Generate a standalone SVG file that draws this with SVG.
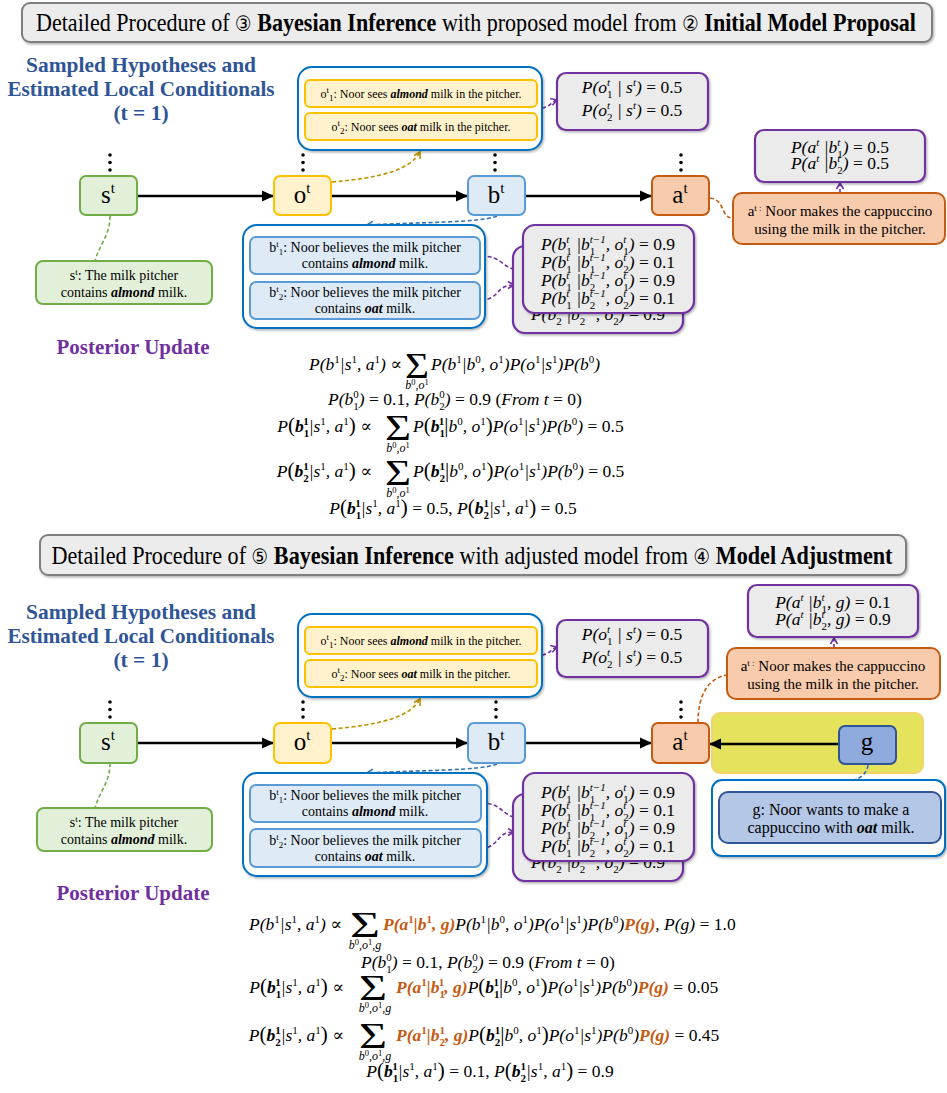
<svg xmlns="http://www.w3.org/2000/svg" width="947" height="1093" viewBox="0 0 947 1093">
<defs>
<style>
.ttl{font-family:"Liberation Serif",serif;font-size:25px;fill:#000}
.cn{font-family:"DejaVu Sans",sans-serif;font-size:21px}
.hd{font-family:"Liberation Serif",serif;font-weight:bold;font-size:21.5px;fill:#2f5597;text-anchor:middle}
.pu{font-family:"Liberation Serif",serif;font-weight:bold;font-size:21px;fill:#7030a0;text-anchor:middle}
.tx{font-family:"Liberation Serif",serif;fill:#000;text-anchor:middle}
.nl{font-family:"Liberation Serif",serif;font-size:25px;fill:#000;text-anchor:middle}
.nsp{font-size:15px;baseline-shift:10px}
.dsp{font-size:9px;baseline-shift:5px}
.dsb{font-size:9px;baseline-shift:-3px}
.bi{font-weight:bold;font-style:italic}
.m{font-family:"Liberation Serif","DejaVu Serif",serif;font-style:italic;font-size:17.5px;fill:#000}
.u{font-style:normal}
.sp{font-size:11px;baseline-shift:7px}
.sb{font-size:11px;baseline-shift:-4.5px}
.bd{font-weight:bold}
.or{fill:#c55a11;font-weight:bold}
.bp{font-size:21px;font-style:normal}
.sig{font-family:"Liberation Serif",serif;font-size:36px;font-style:normal;text-anchor:middle;fill:#000}
.lim{font-family:"Liberation Serif",serif;font-style:italic;font-size:12px;text-anchor:middle;fill:#000}
.lsp{font-size:8.5px;baseline-shift:4.5px;font-style:normal}
.gn{fill:#e2f0d9;stroke:#70ad47;stroke-width:2}
.yl{fill:#fff2cc;stroke:#ffc000;stroke-width:2}
.lb{fill:#deebf7;stroke:#5b9bd5;stroke-width:2}
.og{fill:#f8cbad;stroke:#c55a11;stroke-width:2}
.pb{fill:#ebebeb;stroke:#7030a0;stroke-width:2.2}
.ct{fill:#fff;stroke:#0070c0;stroke-width:2}
.tb{fill:#ececec;stroke:#7f7f7f;stroke-width:2}
.main{stroke:#000;stroke-width:2.6;fill:none}
.dP{stroke:#7030a0;stroke-width:1.6;fill:none;stroke-dasharray:4 2.5}
.dY{stroke:#bf9000;stroke-width:1.6;fill:none;stroke-dasharray:4 2.5}
.dB{stroke:#2e75b6;stroke-width:1.6;fill:none;stroke-dasharray:4 2.5}
.dG{stroke:#70ad47;stroke-width:1.6;fill:none;stroke-dasharray:4 2.5}
.dO{stroke:#c55a11;stroke-width:1.6;fill:none;stroke-dasharray:4 2.5}
</style>
<marker id="arr" markerUnits="userSpaceOnUse" markerWidth="12" markerHeight="12" viewBox="0 0 12 12" refX="11" refY="6" orient="auto"><path d="M0,0.5 L12,6 L0,11.5 Z" fill="#000"/></marker>
<marker id="cP" markerUnits="userSpaceOnUse" markerWidth="9" markerHeight="9" viewBox="0 0 9 9" refX="7.5" refY="4.5" orient="auto"><path d="M1.5,1 L7.5,4.5 L1.5,8" fill="none" stroke="#7030a0" stroke-width="1.6"/></marker>
<marker id="cY" markerUnits="userSpaceOnUse" markerWidth="9" markerHeight="9" viewBox="0 0 9 9" refX="7.5" refY="4.5" orient="auto"><path d="M1.5,1 L7.5,4.5 L1.5,8" fill="none" stroke="#bf9000" stroke-width="1.6"/></marker>
<marker id="cB" markerUnits="userSpaceOnUse" markerWidth="9" markerHeight="9" viewBox="0 0 9 9" refX="7.5" refY="4.5" orient="auto"><path d="M1.5,1 L7.5,4.5 L1.5,8" fill="none" stroke="#2e75b6" stroke-width="1.6"/></marker>
<filter id="sh" x="-5%" y="-5%" width="115%" height="125%"><feDropShadow dx="1.2" dy="1.5" stdDeviation="1.2" flood-color="#000" flood-opacity="0.3"/></filter>
</defs>
<rect width="947" height="1093" fill="#fff"/>

<!-- ================= SECTION 1 ================= -->
<g id="title1">
<rect class="tb" x="22" y="3" width="910" height="39" rx="8" filter="url(#sh)"/>
<text class="ttl" x="476" y="31" text-anchor="middle" textLength="880" lengthAdjust="spacingAndGlyphs"><tspan>Detailed Procedure of </tspan><tspan class="cn">③</tspan><tspan> </tspan><tspan font-weight="bold">Bayesian Inference</tspan><tspan> with proposed model from </tspan><tspan class="cn">②</tspan><tspan> </tspan><tspan font-weight="bold">Initial Model Proposal</tspan></text>
</g>
<g id="heading1">
<text class="hd" x="141" y="72" textLength="230" lengthAdjust="spacingAndGlyphs">Sampled Hypotheses and</text>
<text class="hd" x="141" y="96" textLength="267" lengthAdjust="spacingAndGlyphs">Estimated Local Conditionals</text>
<text class="hd" x="141" y="120">(t = 1)</text>
</g>

<g id="connectors1">
<line class="main" x1="137" y1="196" x2="273" y2="196" marker-end="url(#arr)"/>
<line class="main" x1="331" y1="196" x2="467" y2="196" marker-end="url(#arr)"/>
<line class="main" x1="525" y1="196" x2="651" y2="196" marker-end="url(#arr)"/>
<path class="dG" d="M110,216 C110,236 99,245 95,261"/>
<path class="dY" d="M332,182 C380,178 410,170 420,152" marker-end="url(#cY)"/>
<path class="dP" d="M542,108 C550,107 551,102 557,100" marker-end="url(#cP)"/>
<path class="dB" d="M497,216 C480,223 420,222 367,225" marker-end="url(#cB)"/>
<path class="dP" d="M481,256 C505,256 500,270 523,270" marker-end="url(#cP)"/>
<path class="dP" d="M481,300 C500,300 495,285 514,285" marker-end="url(#cP)"/>
<path class="dO" d="M710,198 C726,200 720,218 733,218"/>
<path class="dP" d="M840,193 L840,183" marker-end="url(#cP)"/>
</g>

<g id="dots1" fill="#000">
<circle cx="110" cy="155" r="1.8"/><circle cx="110" cy="162.5" r="1.8"/><circle cx="110" cy="170" r="1.8"/>
<circle cx="303" cy="155" r="1.8"/><circle cx="303" cy="162.5" r="1.8"/><circle cx="303" cy="170" r="1.8"/>
<circle cx="495" cy="155" r="1.8"/><circle cx="495" cy="162.5" r="1.8"/><circle cx="495" cy="170" r="1.8"/>
<circle cx="681" cy="155" r="1.8"/><circle cx="681" cy="162.5" r="1.8"/><circle cx="681" cy="170" r="1.8"/>
</g>

<g id="s1">
<rect class="gn" x="80" y="176" width="57" height="39" rx="6"/>
<text class="nl" x="108" y="203">s<tspan class="nsp">t</tspan></text>
</g>
<g id="o1">
<rect class="yl" x="274" y="176" width="57" height="39" rx="6"/>
<text class="nl" x="302" y="203">o<tspan class="nsp">t</tspan></text>
</g>
<g id="b1">
<rect class="lb" x="468" y="176" width="57" height="39" rx="6"/>
<text class="nl" x="496" y="203">b<tspan class="nsp">t</tspan></text>
</g>
<g id="a1">
<rect class="og" x="652" y="176" width="57" height="39" rx="6"/>
<text class="nl" x="680" y="203">a<tspan class="nsp">t</tspan></text>
</g>

<g id="sdesc1">
<rect class="gn" x="36" y="261" width="176" height="43" rx="7"/>
<text class="tx" x="124" y="280" font-size="14">s<tspan class="dsp">t</tspan>: The milk pitcher</text>
<text class="tx" x="124" y="297" font-size="14">contains <tspan class="bi">almond</tspan> milk.</text>
</g>

<g id="ohyp1">
<rect class="ct" x="298" y="67" width="244" height="83" rx="14" filter="url(#sh)"/>
<rect class="yl" x="305" y="80" width="232" height="27" rx="5"/>
<text class="tx" x="421" y="97.5" font-size="12">o<tspan class="dsp">t</tspan><tspan class="dsb">1</tspan>: Noor sees <tspan class="bi">almond</tspan> milk in the pitcher.</text>
<rect class="yl" x="305" y="113" width="232" height="27" rx="5"/>
<text class="tx" x="421" y="130.5" font-size="12">o<tspan class="dsp">t</tspan><tspan class="dsb">2</tspan>: Noor sees <tspan class="bi">oat</tspan> milk in the pitcher.</text>
</g>

<g id="po1">
<rect class="pb" x="557" y="73" width="151" height="57" rx="9" filter="url(#sh)"/>
<text class="m" x="632" y="93" text-anchor="middle">P(o<tspan class="sp">t</tspan><tspan class="sb u" dx="-3">1</tspan> | s<tspan class="sp">t</tspan>) <tspan class="u">= 0.5</tspan></text>
<text class="m" x="632" y="116" text-anchor="middle">P(o<tspan class="sp">t</tspan><tspan class="sb u" dx="-3">2</tspan> | s<tspan class="sp">t</tspan>) <tspan class="u">= 0.5</tspan></text>
</g>

<g id="bhyp1">
<rect class="ct" x="243" y="225" width="242" height="103" rx="14" filter="url(#sh)"/>
<rect class="lb" x="250" y="237" width="230" height="37" rx="6"/>
<text class="tx" x="365" y="252" font-size="14">b<tspan class="dsp">t</tspan><tspan class="dsb">1</tspan>: Noor believes the milk pitcher</text>
<text class="tx" x="365" y="268" font-size="14">contains <tspan class="bi">almond</tspan> milk.</text>
<rect class="lb" x="250" y="282" width="230" height="37" rx="6"/>
<text class="tx" x="365" y="297" font-size="14">b<tspan class="dsp">t</tspan><tspan class="dsb">2</tspan>: Noor believes the milk pitcher</text>
<text class="tx" x="365" y="313" font-size="14">contains <tspan class="bi">oat</tspan> milk.</text>
</g>

<g id="pb1">
<rect class="pb" x="513" y="246" width="170" height="87" rx="12" filter="url(#sh)"/>
<text class="m" x="598" y="320" text-anchor="middle">P(b<tspan class="sp">t</tspan><tspan class="sb u" dx="-3">2</tspan> |b<tspan class="sb u">2</tspan><tspan class="sp" dx="-5.5">t−1</tspan>, o<tspan class="sp">t</tspan><tspan class="sb u" dx="-3">2</tspan>) <tspan class="u">= 0.9</tspan></text>
<rect class="pb" x="523" y="225" width="171" height="88" rx="12" filter="url(#sh)"/>
<text class="m" x="608" y="250" text-anchor="middle">P(b<tspan class="sp">t</tspan><tspan class="sb u" dx="-3">1</tspan> |b<tspan class="sb u">1</tspan><tspan class="sp" dx="-5.5">t−1</tspan>, o<tspan class="sp">t</tspan><tspan class="sb u" dx="-3">1</tspan>) <tspan class="u">= 0.9</tspan></text>
<text class="m" x="608" y="268" text-anchor="middle">P(b<tspan class="sp">t</tspan><tspan class="sb u" dx="-3">1</tspan> |b<tspan class="sb u">1</tspan><tspan class="sp" dx="-5.5">t−1</tspan>, o<tspan class="sp">t</tspan><tspan class="sb u" dx="-3">2</tspan>) <tspan class="u">= 0.1</tspan></text>
<text class="m" x="608" y="286" text-anchor="middle">P(b<tspan class="sp">t</tspan><tspan class="sb u" dx="-3">1</tspan> |b<tspan class="sb u">2</tspan><tspan class="sp" dx="-5.5">t−1</tspan>, o<tspan class="sp">t</tspan><tspan class="sb u" dx="-3">1</tspan>) <tspan class="u">= 0.9</tspan></text>
<text class="m" x="608" y="304" text-anchor="middle">P(b<tspan class="sp">t</tspan><tspan class="sb u" dx="-3">1</tspan> |b<tspan class="sb u">2</tspan><tspan class="sp" dx="-5.5">t−1</tspan>, o<tspan class="sp">t</tspan><tspan class="sb u" dx="-3">2</tspan>) <tspan class="u">= 0.1</tspan></text>
</g>

<g id="adesc1">
<rect class="og" x="733" y="193" width="212" height="51" rx="9"/>
<text class="tx" x="840" y="216" font-size="15">a<tspan class="dsp">t :</tspan> Noor makes the cappuccino</text>
<text class="tx" x="840" y="234" font-size="15">using the milk in the pitcher.</text>
</g>

<g id="pa1">
<rect class="pb" x="755" y="130" width="170" height="52" rx="9" filter="url(#sh)"/>
<text class="m" x="840" y="153" text-anchor="middle">P(a<tspan class="sp">t</tspan> |b<tspan class="sp">t</tspan><tspan class="sb u" dx="-3">1</tspan>) <tspan class="u">= 0.5</tspan></text>
<text class="m" x="840" y="169" text-anchor="middle">P(a<tspan class="sp">t</tspan> |b<tspan class="sp">t</tspan><tspan class="sb u" dx="-3">2</tspan>) <tspan class="u">= 0.5</tspan></text>
</g>

<g id="posterior1">
<text class="pu" x="133" y="354">Posterior Update</text>
<text class="m" x="402" y="370" text-anchor="end">P(b<tspan class="sp u">1</tspan>|s<tspan class="sp u">1</tspan>, a<tspan class="sp u">1</tspan>) <tspan class="u">∝</tspan></text>
<text class="sig" x="417" y="378" textLength="24" lengthAdjust="spacingAndGlyphs">Σ</text>
<text class="lim" x="417" y="389">b<tspan class="lsp">0</tspan>,o<tspan class="lsp">1</tspan></text>
<text class="m" x="431" y="370">P(b<tspan class="sp u">1</tspan>|b<tspan class="sp u">0</tspan>, o<tspan class="sp u">1</tspan>)P(o<tspan class="sp u">1</tspan>|s<tspan class="sp u">1</tspan>)P(b<tspan class="sp u">0</tspan>)</text>
<text class="m" x="455" y="405" text-anchor="middle">P(b<tspan class="sb u">1</tspan><tspan class="sp u" dx="-5.5">0</tspan>) <tspan class="u">= 0.1,</tspan> P(b<tspan class="sb u">2</tspan><tspan class="sp u" dx="-5.5">0</tspan>) <tspan class="u">= 0.9 (</tspan>From t <tspan class="u">= 0)</tspan></text>
<text class="m" x="372" y="432" text-anchor="end">P<tspan class="bp">(</tspan><tspan class="bd">b</tspan><tspan class="sb u bd">1</tspan><tspan class="sp u bd" dx="-5.5">1</tspan>|s<tspan class="sp u">1</tspan>, a<tspan class="sp u">1</tspan><tspan class="bp">)</tspan> <tspan class="u">∝</tspan></text>
<text class="sig" x="398" y="440" textLength="26" lengthAdjust="spacingAndGlyphs">Σ</text>
<text class="lim" x="398" y="452">b<tspan class="lsp">0</tspan>,o<tspan class="lsp">1</tspan></text>
<text class="m" x="413" y="432">P<tspan class="bp">(</tspan><tspan class="bd">b</tspan><tspan class="sb u bd">1</tspan><tspan class="sp u bd" dx="-5.5">1</tspan><tspan class="bp">|</tspan>b<tspan class="sp u">0</tspan>, o<tspan class="sp u">1</tspan><tspan class="bp">)</tspan>P(o<tspan class="sp u">1</tspan>|s<tspan class="sp u">1</tspan>)P(b<tspan class="sp u">0</tspan>) <tspan class="u">= 0.5</tspan></text>
<text class="m" x="372" y="477" text-anchor="end">P<tspan class="bp">(</tspan><tspan class="bd">b</tspan><tspan class="sb u bd">2</tspan><tspan class="sp u bd" dx="-5.5">1</tspan>|s<tspan class="sp u">1</tspan>, a<tspan class="sp u">1</tspan><tspan class="bp">)</tspan> <tspan class="u">∝</tspan></text>
<text class="sig" x="398" y="485" textLength="26" lengthAdjust="spacingAndGlyphs">Σ</text>
<text class="lim" x="398" y="497">b<tspan class="lsp">0</tspan>,o<tspan class="lsp">1</tspan></text>
<text class="m" x="413" y="477">P<tspan class="bp">(</tspan><tspan class="bd">b</tspan><tspan class="sb u bd">2</tspan><tspan class="sp u bd" dx="-5.5">1</tspan><tspan class="bp">|</tspan>b<tspan class="sp u">0</tspan>, o<tspan class="sp u">1</tspan><tspan class="bp">)</tspan>P(o<tspan class="sp u">1</tspan>|s<tspan class="sp u">1</tspan>)P(b<tspan class="sp u">0</tspan>) <tspan class="u">= 0.5</tspan></text>
<text class="m" x="453" y="514" text-anchor="middle">P<tspan class="bp">(</tspan><tspan class="bd">b</tspan><tspan class="sb u bd">1</tspan><tspan class="sp u bd" dx="-5.5">1</tspan>|s<tspan class="sp u">1</tspan>, a<tspan class="sp u">1</tspan><tspan class="bp">)</tspan> <tspan class="u">= 0.5,</tspan> P<tspan class="bp">(</tspan><tspan class="bd">b</tspan><tspan class="sb u bd">2</tspan><tspan class="sp u bd" dx="-5.5">1</tspan>|s<tspan class="sp u">1</tspan>, a<tspan class="sp u">1</tspan><tspan class="bp">)</tspan> <tspan class="u">= 0.5</tspan></text>
</g>

<!-- ================= SECTION 2 ================= -->
<g id="title2">
<rect class="tb" x="40" y="535" width="866" height="40" rx="8" filter="url(#sh)"/>
<text class="ttl" x="472" y="564" text-anchor="middle" textLength="841" lengthAdjust="spacingAndGlyphs"><tspan>Detailed Procedure of </tspan><tspan class="cn">⑤</tspan><tspan> </tspan><tspan font-weight="bold">Bayesian Inference</tspan><tspan> with adjusted model from </tspan><tspan class="cn">④</tspan><tspan> </tspan><tspan font-weight="bold">Model Adjustment</tspan></text>
</g>
<g id="heading2">
<text class="hd" x="141" y="619" textLength="230" lengthAdjust="spacingAndGlyphs">Sampled Hypotheses and</text>
<text class="hd" x="141" y="643" textLength="267" lengthAdjust="spacingAndGlyphs">Estimated Local Conditionals</text>
<text class="hd" x="141" y="667">(t = 1)</text>
</g>

<g id="goalhl">
<rect x="712" y="713" width="211" height="60" rx="8" fill="#e4e35b" stroke="#f3d36b" stroke-width="2"/>
</g>

<g id="connectors2">
<line class="main" x1="137" y1="743" x2="273" y2="743" marker-end="url(#arr)"/>
<line class="main" x1="331" y1="743" x2="467" y2="743" marker-end="url(#arr)"/>
<line class="main" x1="525" y1="743" x2="651" y2="743" marker-end="url(#arr)"/>
<line class="main" x1="839" y1="744" x2="710" y2="744" marker-end="url(#arr)"/>
<path class="dG" d="M110,763 C110,783 99,792 95,808"/>
<path class="dY" d="M332,729 C380,725 410,717 420,699" marker-end="url(#cY)"/>
<path class="dP" d="M542,655 C550,654 551,649 557,647" marker-end="url(#cP)"/>
<path class="dB" d="M497,764 C480,771 420,770 367,773" marker-end="url(#cB)"/>
<path class="dP" d="M481,803 C505,803 500,818 523,818" marker-end="url(#cP)"/>
<path class="dP" d="M481,848 C500,848 495,832 514,832" marker-end="url(#cP)"/>
<path class="dO" d="M698,723 C698,692 710,678 727,675"/>
<path class="dP" d="M834,648 L834,638" marker-end="url(#cP)"/>
<path class="dB" d="M868,765 C866,782 845,780 834,790" marker-end="url(#cB)"/>
</g>

<g id="dots2" fill="#000">
<circle cx="110" cy="702" r="1.8"/><circle cx="110" cy="709.5" r="1.8"/><circle cx="110" cy="717" r="1.8"/>
<circle cx="303" cy="702" r="1.8"/><circle cx="303" cy="709.5" r="1.8"/><circle cx="303" cy="717" r="1.8"/>
<circle cx="496" cy="702" r="1.8"/><circle cx="496" cy="709.5" r="1.8"/><circle cx="496" cy="717" r="1.8"/>
<circle cx="681" cy="702" r="1.8"/><circle cx="681" cy="709.5" r="1.8"/><circle cx="681" cy="717" r="1.8"/>
</g>

<g id="s2">
<rect class="gn" x="80" y="723" width="57" height="40" rx="6"/>
<text class="nl" x="108" y="750">s<tspan class="nsp">t</tspan></text>
</g>
<g id="o2">
<rect class="yl" x="274" y="723" width="57" height="40" rx="6"/>
<text class="nl" x="302" y="750">o<tspan class="nsp">t</tspan></text>
</g>
<g id="b2">
<rect class="lb" x="468" y="723" width="57" height="40" rx="6"/>
<text class="nl" x="496" y="750">b<tspan class="nsp">t</tspan></text>
</g>
<g id="a2">
<rect class="og" x="652" y="723" width="57" height="40" rx="6"/>
<text class="nl" x="680" y="750">a<tspan class="nsp">t</tspan></text>
</g>
<g id="g2">
<rect x="839" y="726" width="57" height="38" rx="6" fill="#8faadc" stroke="#2f5597" stroke-width="2"/>
<text class="nl" x="867" y="750" font-size="26">g</text>
</g>

<g id="sdesc2">
<rect class="gn" x="37" y="808" width="175" height="43" rx="7"/>
<text class="tx" x="124" y="827" font-size="14">s<tspan class="dsp">t</tspan>: The milk pitcher</text>
<text class="tx" x="124" y="844" font-size="14">contains <tspan class="bi">almond</tspan> milk.</text>
</g>

<g id="ohyp2">
<rect class="ct" x="298" y="614" width="244" height="83" rx="14" filter="url(#sh)"/>
<rect class="yl" x="305" y="627" width="232" height="27" rx="5"/>
<text class="tx" x="421" y="644.5" font-size="12">o<tspan class="dsp">t</tspan><tspan class="dsb">1</tspan>: Noor sees <tspan class="bi">almond</tspan> milk in the pitcher.</text>
<rect class="yl" x="305" y="660" width="232" height="27" rx="5"/>
<text class="tx" x="421" y="677.5" font-size="12">o<tspan class="dsp">t</tspan><tspan class="dsb">2</tspan>: Noor sees <tspan class="bi">oat</tspan> milk in the pitcher.</text>
</g>

<g id="po2">
<rect class="pb" x="557" y="620" width="151" height="57" rx="9" filter="url(#sh)"/>
<text class="m" x="632" y="640" text-anchor="middle">P(o<tspan class="sp">t</tspan><tspan class="sb u" dx="-3">1</tspan> | s<tspan class="sp">t</tspan>) <tspan class="u">= 0.5</tspan></text>
<text class="m" x="632" y="663" text-anchor="middle">P(o<tspan class="sp">t</tspan><tspan class="sb u" dx="-3">2</tspan> | s<tspan class="sp">t</tspan>) <tspan class="u">= 0.5</tspan></text>
</g>

<g id="bhyp2">
<rect class="ct" x="243" y="773" width="244" height="103" rx="14" filter="url(#sh)"/>
<rect class="lb" x="250" y="785" width="231" height="37" rx="6"/>
<text class="tx" x="365" y="800" font-size="14">b<tspan class="dsp">t</tspan><tspan class="dsb">1</tspan>: Noor believes the milk pitcher</text>
<text class="tx" x="365" y="816" font-size="14">contains <tspan class="bi">almond</tspan> milk.</text>
<rect class="lb" x="250" y="829" width="231" height="38" rx="6"/>
<text class="tx" x="365" y="845" font-size="14">b<tspan class="dsp">t</tspan><tspan class="dsb">2</tspan>: Noor believes the milk pitcher</text>
<text class="tx" x="365" y="861" font-size="14">contains <tspan class="bi">oat</tspan> milk.</text>
</g>

<g id="pb2">
<rect class="pb" x="513" y="794" width="170" height="87" rx="12" filter="url(#sh)"/>
<text class="m" x="598" y="868" text-anchor="middle">P(b<tspan class="sp">t</tspan><tspan class="sb u" dx="-3">2</tspan> |b<tspan class="sb u">2</tspan><tspan class="sp" dx="-5.5">t−1</tspan>, o<tspan class="sp">t</tspan><tspan class="sb u" dx="-3">2</tspan>) <tspan class="u">= 0.9</tspan></text>
<rect class="pb" x="523" y="773" width="171" height="88" rx="12" filter="url(#sh)"/>
<text class="m" x="608" y="798" text-anchor="middle">P(b<tspan class="sp">t</tspan><tspan class="sb u" dx="-3">1</tspan> |b<tspan class="sb u">1</tspan><tspan class="sp" dx="-5.5">t−1</tspan>, o<tspan class="sp">t</tspan><tspan class="sb u" dx="-3">1</tspan>) <tspan class="u">= 0.9</tspan></text>
<text class="m" x="608" y="816" text-anchor="middle">P(b<tspan class="sp">t</tspan><tspan class="sb u" dx="-3">1</tspan> |b<tspan class="sb u">1</tspan><tspan class="sp" dx="-5.5">t−1</tspan>, o<tspan class="sp">t</tspan><tspan class="sb u" dx="-3">2</tspan>) <tspan class="u">= 0.1</tspan></text>
<text class="m" x="608" y="834" text-anchor="middle">P(b<tspan class="sp">t</tspan><tspan class="sb u" dx="-3">1</tspan> |b<tspan class="sb u">2</tspan><tspan class="sp" dx="-5.5">t−1</tspan>, o<tspan class="sp">t</tspan><tspan class="sb u" dx="-3">1</tspan>) <tspan class="u">= 0.9</tspan></text>
<text class="m" x="608" y="852" text-anchor="middle">P(b<tspan class="sp">t</tspan><tspan class="sb u" dx="-3">1</tspan> |b<tspan class="sb u">2</tspan><tspan class="sp" dx="-5.5">t−1</tspan>, o<tspan class="sp">t</tspan><tspan class="sb u" dx="-3">2</tspan>) <tspan class="u">= 0.1</tspan></text>
</g>

<g id="adesc2">
<rect class="og" x="727" y="648" width="213" height="51" rx="9"/>
<text class="tx" x="833" y="671" font-size="15">a<tspan class="dsp">t :</tspan> Noor makes the cappuccino</text>
<text class="tx" x="833" y="689" font-size="15">using the milk in the pitcher.</text>
</g>

<g id="pa2">
<rect class="pb" x="748" y="585" width="170" height="52" rx="9" filter="url(#sh)"/>
<text class="m" x="833" y="608" text-anchor="middle">P(a<tspan class="sp">t</tspan> |b<tspan class="sp">t</tspan><tspan class="sb u" dx="-3">1</tspan>, g) <tspan class="u">= 0.1</tspan></text>
<text class="m" x="833" y="625" text-anchor="middle">P(a<tspan class="sp">t</tspan> |b<tspan class="sp">t</tspan><tspan class="sb u" dx="-3">2</tspan>, g) <tspan class="u">= 0.9</tspan></text>
</g>

<g id="gdesc2">
<rect class="ct" x="712" y="780" width="233" height="76" rx="10" filter="url(#sh)"/>
<rect x="719" y="792" width="222" height="51" rx="9" fill="#b4c7e7" stroke="#2f5597" stroke-width="2"/>
<text class="tx" x="831" y="815" font-size="16">g: Noor wants to make a</text>
<text class="tx" x="831" y="833" font-size="16">cappuccino with <tspan class="bi">oat</tspan> milk.</text>
</g>

<g id="posterior2">
<text class="pu" x="133" y="900">Posterior Update</text>
<text class="m" x="342" y="930" text-anchor="end">P(b<tspan class="sp u">1</tspan>|s<tspan class="sp u">1</tspan>, a<tspan class="sp u">1</tspan>) <tspan class="u">∝</tspan></text>
<text class="sig" x="365" y="937" textLength="30" lengthAdjust="spacingAndGlyphs">Σ</text>
<text class="lim" x="365" y="949">b<tspan class="lsp">0</tspan>,o<tspan class="lsp">1</tspan>,g</text>
<text class="m" x="383" y="930"><tspan class="or">P(a<tspan class="sp u">1</tspan>|b<tspan class="sp u">1</tspan>, g)</tspan>P(b<tspan class="sp u">1</tspan>|b<tspan class="sp u">0</tspan>, o<tspan class="sp u">1</tspan>)P(o<tspan class="sp u">1</tspan>|s<tspan class="sp u">1</tspan>)P(b<tspan class="sp u">0</tspan>)<tspan class="or">P(g)</tspan>, P(g) <tspan class="u">= 1.0</tspan></text>
<text class="m" x="488" y="968" text-anchor="middle">P(b<tspan class="sb u">1</tspan><tspan class="sp u" dx="-5.5">0</tspan>) <tspan class="u">= 0.1,</tspan> P(b<tspan class="sb u">2</tspan><tspan class="sp u" dx="-5.5">0</tspan>) <tspan class="u">= 0.9 (</tspan>From t <tspan class="u">= 0)</tspan></text>
<text class="m" x="344" y="993" text-anchor="end">P<tspan class="bp">(</tspan><tspan class="bd">b</tspan><tspan class="sb u bd">1</tspan><tspan class="sp u bd" dx="-5.5">1</tspan>|s<tspan class="sp u">1</tspan>, a<tspan class="sp u">1</tspan><tspan class="bp">)</tspan> <tspan class="u">∝</tspan></text>
<text class="sig" x="373" y="1000" textLength="28" lengthAdjust="spacingAndGlyphs">Σ</text>
<text class="lim" x="375" y="1012">b<tspan class="lsp">0</tspan>,o<tspan class="lsp">1</tspan>,g</text>
<text class="m" x="396" y="993"><tspan class="or">P(a<tspan class="sp u">1</tspan>|b<tspan class="sb u">1</tspan><tspan class="sp u" dx="-5.5">1</tspan>, g)</tspan>P<tspan class="bp">(</tspan><tspan class="bd">b</tspan><tspan class="sb u bd">1</tspan><tspan class="sp u bd" dx="-5.5">1</tspan><tspan class="bp">|</tspan>b<tspan class="sp u">0</tspan>, o<tspan class="sp u">1</tspan><tspan class="bp">)</tspan>P(o<tspan class="sp u">1</tspan>|s<tspan class="sp u">1</tspan>)P(b<tspan class="sp u">0</tspan>)<tspan class="or">P(g)</tspan> <tspan class="u">= 0.05</tspan></text>
<text class="m" x="344" y="1041" text-anchor="end">P<tspan class="bp">(</tspan><tspan class="bd">b</tspan><tspan class="sb u bd">2</tspan><tspan class="sp u bd" dx="-5.5">1</tspan>|s<tspan class="sp u">1</tspan>, a<tspan class="sp u">1</tspan><tspan class="bp">)</tspan> <tspan class="u">∝</tspan></text>
<text class="sig" x="373" y="1048" textLength="28" lengthAdjust="spacingAndGlyphs">Σ</text>
<text class="lim" x="375" y="1060">b<tspan class="lsp">0</tspan>,o<tspan class="lsp">1</tspan>,g</text>
<text class="m" x="396" y="1041"><tspan class="or">P(a<tspan class="sp u">1</tspan>|b<tspan class="sb u">2</tspan><tspan class="sp u" dx="-5.5">1</tspan>, g)</tspan>P<tspan class="bp">(</tspan><tspan class="bd">b</tspan><tspan class="sb u bd">2</tspan><tspan class="sp u bd" dx="-5.5">1</tspan><tspan class="bp">|</tspan>b<tspan class="sp u">0</tspan>, o<tspan class="sp u">1</tspan><tspan class="bp">)</tspan>P(o<tspan class="sp u">1</tspan>|s<tspan class="sp u">1</tspan>)P(b<tspan class="sp u">0</tspan>)<tspan class="or">P(g)</tspan> <tspan class="u">= 0.45</tspan></text>
<text class="m" x="490" y="1077" text-anchor="middle">P<tspan class="bp">(</tspan><tspan class="bd">b</tspan><tspan class="sb u bd">1</tspan><tspan class="sp u bd" dx="-5.5">1</tspan>|s<tspan class="sp u">1</tspan>, a<tspan class="sp u">1</tspan><tspan class="bp">)</tspan> <tspan class="u">= 0.1,</tspan> P<tspan class="bp">(</tspan><tspan class="bd">b</tspan><tspan class="sb u bd">2</tspan><tspan class="sp u bd" dx="-5.5">1</tspan>|s<tspan class="sp u">1</tspan>, a<tspan class="sp u">1</tspan><tspan class="bp">)</tspan> <tspan class="u">= 0.9</tspan></text>
</g>
</svg>
